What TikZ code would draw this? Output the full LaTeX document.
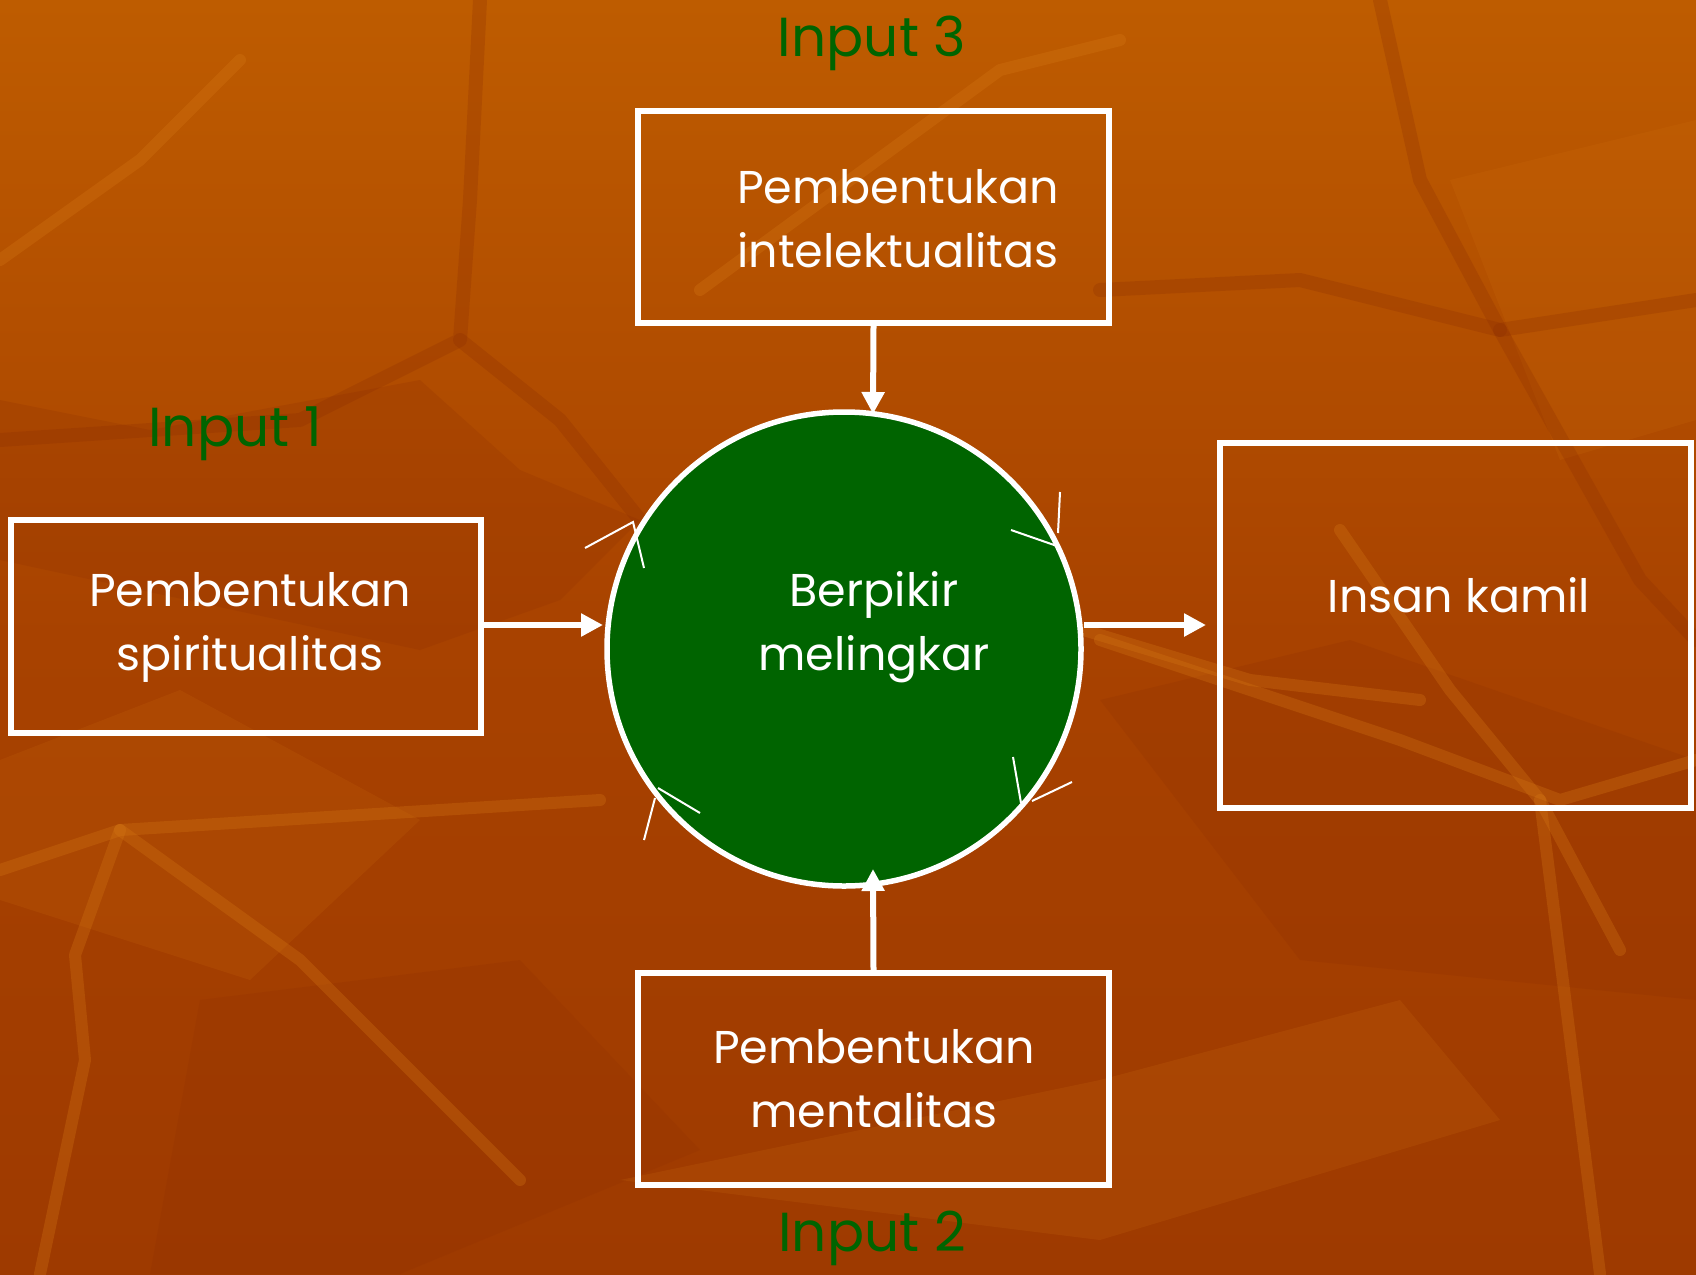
\documentclass[tikz,border=0pt]{standalone}
\usepackage{fontspec}
\setmainfont{Poppins}
\usetikzlibrary{arrows.meta}
\definecolor{bgtop}{RGB}{190,92,0}
\definecolor{bgmid}{RGB}{168,66,0}
\definecolor{bgbot}{RGB}{158,58,0}
\definecolor{circgreen}{RGB}{0,100,0}
\definecolor{inputgreen}{RGB}{0,100,0}
\definecolor{veinlight}{RGB}{214,120,20}
\definecolor{veindark}{RGB}{140,45,0}
\tikzset{
  box/.style={draw=white, line width=6pt, rectangle, inner sep=0pt},
  label text/.style={text=white, align=center, font=\fontsize{46}{64}\selectfont},
  input text/.style={text=inputgreen, font=\fontsize{55}{60}\selectfont},
  flow/.style={draw=white, line width=6pt, -{Triangle[length=22pt,width=22pt]}},
  tick/.style={draw=white, line width=2pt},
  lightvein/.style={draw=veinlight, line width=12pt, opacity=0.3, line cap=round, line join=round},
  darkvein/.style={draw=veindark, line width=14pt, opacity=0.25, line cap=round, line join=round}
}
\begin{document}
\begin{tikzpicture}[x=1pt,y=-1pt]
\useasboundingbox (0,0) rectangle (1696,1274);
\shade[top color=bgtop, bottom color=bgbot, middle color=bgmid] (0,0) rectangle (1696,1274);
% background texture
\fill[veindark, opacity=0.2] (0,400) -- (150,430) -- (420,380) -- (520,470) -- (640,520) -- (560,600) -- (420,650) -- (0,560) -- cycle;
\fill[veinlight, opacity=0.14] (1450,180) -- (1696,120) -- (1696,420) -- (1560,460) -- cycle;
\fill[veindark, opacity=0.2] (1100,700) -- (1350,640) -- (1696,760) -- (1696,1000) -- (1300,960) -- cycle;
\fill[veinlight, opacity=0.14] (0,760) -- (180,690) -- (420,820) -- (250,980) -- (0,900) -- cycle;
\fill[veindark, opacity=0.18] (200,1000) -- (520,960) -- (700,1150) -- (400,1274) -- (150,1274) -- cycle;
\fill[veinlight, opacity=0.16] (620,1180) -- (1100,1080) -- (1400,1000) -- (1500,1120) -- (1100,1240) -- cycle;
\draw[lightvein] (0,870) -- (120,830) -- (600,800);
\draw[lightvein] (120,830) -- (75,955) -- (85,1060) -- (40,1274);
\draw[lightvein] (120,830) -- (300,960) -- (520,1180);
\draw[lightvein] (1340,530) -- (1450,690) -- (1540,800) -- (1620,950);
\draw[lightvein] (1100,640) -- (1400,740) -- (1560,800) -- (1696,760);
\draw[lightvein] (1540,800) -- (1600,1274);
\draw[lightvein] (1050,620) -- (1250,680) -- (1420,700);
\draw[darkvein] (1696,300) -- (1500,330) -- (1300,280) -- (1100,290);
\draw[darkvein] (1500,330) -- (1420,180) -- (1380,0);
\draw[darkvein] (1500,330) -- (1640,580) -- (1696,640);
\draw[darkvein] (460,340) -- (560,420) -- (640,520);
\draw[darkvein] (480,0) -- (470,200) -- (460,340) -- (300,420) -- (0,440);
\draw[lightvein] (0,260) -- (140,160) -- (240,60);
\draw[lightvein] (700,290) -- (1000,70) -- (1120,40);
% boxes
\node[box, minimum width=471pt, minimum height=212pt] (top) at (873.5,217) {};
\node[box, minimum width=470pt, minimum height=213pt] (left) at (246,626.5) {};
\node[box, minimum width=471pt, minimum height=365pt] (right) at (1455.5,625.5) {};
\node[box, minimum width=471pt, minimum height=212pt] (bot) at (873.5,1079) {};
\node[draw=white, line width=5.5pt, fill=circgreen, circle, minimum size=474pt, inner sep=0pt] (c) at (844,649) {};
% texts
\node[label text] (toptext) at (898,218.5) {Pembentukan\\intelektualitas};
\node[label text] (lefttext) at (250,627.5) {Pembentukan\\spiritualitas};
\node[label text] (ctext) at (874,627.5) {Berpikir\\melingkar};
\node[label text] (righttext) at (1459,595) {Insan kamil};
\node[label text] (bottext) at (874,1079) {Pembentukan\\mentalitas};
\node[input text] (in1) at (235,434) {Input 1};
\node[input text] (in2) at (872,1238) {Input 2};
\node[input text] (in3) at (872,43) {Input 3};
% arrows
\coordinate (tgt1) at (873,414);
\coordinate (tgt2) at (873,869);
\coordinate (tgtl) at (603,625);
\coordinate (srcr) at (1084,625);
\coordinate (tgtr) at (1206,625);
\draw[flow] (top.south) -- (tgt1);
\draw[flow] (bot.north) -- (tgt2);
\draw[flow] (left.east |- tgtl) -- (tgtl);
\draw[flow] (srcr) -- (tgtr);
% small ticks on circle
\draw[tick] (585,548) -- (633,522) -- (644,568);
\draw[tick] (1011,530) -- (1057,546);
\draw[tick] (1060,492) -- (1058,533);
\draw[tick] (700,813) -- (658,788);
\draw[tick] (655,798) -- (644,840);
\draw[tick] (1013,757) -- (1021,803);
\draw[tick] (1032,801) -- (1072,782);
\end{tikzpicture}
\end{document}
